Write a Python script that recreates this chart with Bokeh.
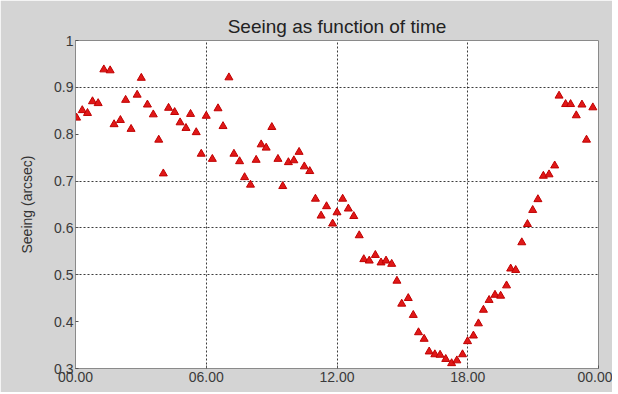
from bokeh.plotting import figure
from bokeh.models import Range1d, FixedTicker
from bokeh.embed import file_html
from bokeh.resources import INLINE

# time of day (hours) of each measurement
hours = [0.05, 0.31, 0.55, 0.78, 1.04, 1.30, 1.59, 1.77, 2.06, 2.30, 2.55, 2.83,
         3.02, 3.30, 3.57, 3.82, 4.03, 4.27, 4.55, 4.80, 5.07, 5.28, 5.54, 5.77,
         6.00, 6.28, 6.54, 6.77, 7.04, 7.27, 7.53, 7.76, 8.03, 8.29, 8.52, 8.75,
         9.01, 9.29, 9.51, 9.77, 10.02, 10.26, 10.50, 10.75, 11.01, 11.27, 11.52, 11.80,
         12.00, 12.26, 12.52, 12.77, 13.02, 13.23, 13.48, 13.76, 14.02, 14.25, 14.51, 14.75,
         14.97, 15.27, 15.50, 15.74, 16.00, 16.23, 16.49, 16.73, 16.99, 17.26, 17.50, 17.76,
         17.99, 18.26, 18.49, 18.72, 18.98, 19.25, 19.51, 19.78, 19.97, 20.20, 20.48, 20.74,
         20.98, 21.22, 21.47, 21.73, 21.99, 22.19, 22.49, 22.72, 22.98, 23.24, 23.45, 23.74]

# seeing values (arcsec)
seeing = [0.835, 0.851, 0.845, 0.870, 0.866, 0.938, 0.936, 0.821, 0.830, 0.873, 0.811, 0.884,
          0.920, 0.863, 0.842, 0.788, 0.716, 0.856, 0.847, 0.825, 0.813, 0.843, 0.804, 0.758,
          0.839, 0.747, 0.855, 0.817, 0.921, 0.758, 0.742, 0.708, 0.692, 0.745, 0.778, 0.771,
          0.815, 0.747, 0.689, 0.740, 0.744, 0.762, 0.731, 0.721, 0.662, 0.626, 0.646, 0.609,
          0.633, 0.662, 0.641, 0.625, 0.584, 0.533, 0.530, 0.542, 0.526, 0.530, 0.523, 0.487,
          0.438, 0.450, 0.414, 0.377, 0.363, 0.336, 0.330, 0.329, 0.320, 0.311, 0.317, 0.330,
          0.358, 0.370, 0.396, 0.425, 0.446, 0.457, 0.455, 0.477, 0.513, 0.510, 0.569, 0.608,
          0.638, 0.661, 0.711, 0.714, 0.733, 0.882, 0.864, 0.864, 0.840, 0.863, 0.788, 0.857]

x_ticks = [0, 6, 12, 18, 24]
x_tick_labels = ["00.00", "06.00", "12.00", "18.00", "00.00"]
y_ticks = [0.3, 0.4, 0.5, 0.6, 0.7, 0.8, 0.9, 1.0]
y_tick_labels = ["0.3", "0.4", "0.5", "0.6", "0.7", "0.8", "0.9", "1"]
x_grid = [6, 12, 18]
y_grid = [0.5, 0.6, 0.7, 0.9]

FONT = "Liberation Sans"
BG = "#d4d4d4"

p = figure(width=612, height=392, output_backend="svg", toolbar_location=None,
           x_range=Range1d(0, 24), y_range=Range1d(0.3, 1.0),
           title="Seeing as function of time",
           min_border_left=75, min_border_right=14, min_border_top=40, min_border_bottom=24)
p.background_fill_color = "white"
p.border_fill_color = BG
p.outline_line_color = "#8a8a8a"

p.title.align = "center"
p.title.text_font = FONT
p.title.text_font_size = "19px"
p.title.text_font_style = "normal"
p.title.text_color = "#222222"
p.title.standoff = 8

p.xaxis.ticker = FixedTicker(ticks=x_ticks)
p.xaxis.major_label_overrides = {t: l for t, l in zip(x_ticks, x_tick_labels)}
p.yaxis.ticker = FixedTicker(ticks=y_ticks)
p.yaxis.major_label_overrides = {t: l for t, l in zip(y_ticks, y_tick_labels)}

for ax in (p.xaxis, p.yaxis):
    ax.axis_line_color = "#8a8a8a"
    ax.major_tick_in = 3
    ax.major_tick_out = 0
    ax.major_tick_line_color = "#555555"
    ax.minor_tick_line_color = None
    ax.major_label_text_font = FONT
    ax.major_label_text_font_size = "14px"
    ax.major_label_text_color = "#3a3a3a"
p.xaxis.major_label_standoff = 3
p.yaxis.major_label_standoff = 2

p.yaxis.axis_label = "Seeing (arcsec)"
p.yaxis.axis_label_text_font = FONT
p.yaxis.axis_label_text_font_size = "14px"
p.yaxis.axis_label_text_font_style = "normal"
p.yaxis.axis_label_text_color = "#333333"
p.yaxis.axis_label_standoff = 16

p.xgrid.ticker = FixedTicker(ticks=x_grid)
p.ygrid.ticker = FixedTicker(ticks=y_grid)
for g in (p.xgrid, p.ygrid):
    g.grid_line_color = "#1a1a1a"
    g.grid_line_dash = "2 2"
    g.grid_line_width = 1
    g.grid_line_alpha = 0.85

p.scatter(hours, seeing, marker="triangle", size=8,
          fill_color="#e01818", line_color="#c00000", line_width=1)

open("out.html", "w").write(file_html(p, INLINE))
